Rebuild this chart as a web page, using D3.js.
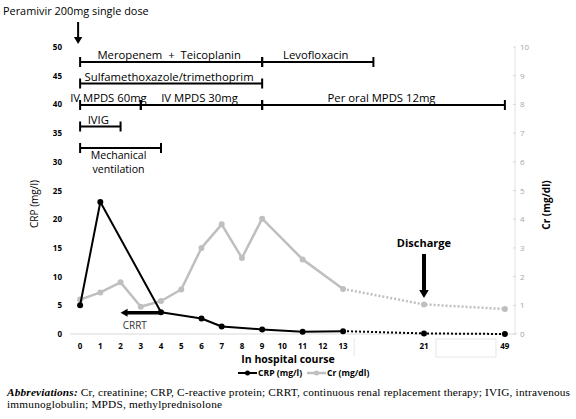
<!DOCTYPE html>
<html>
<head>
<meta charset="utf-8">
<script src="https://cdn.jsdelivr.net/npm/d3@7"></script>
<style>
  body { margin: 0; background: #fff; }
  text { font-family: "Open Sans", "Noto Sans", sans-serif; white-space: pre; }
</style>
</head>
<body>
<div id="chart"></div>
<script>
// hospital days that have measurements
var days = [0, 1, 2, 3, 4, 5, 6, 7, 8, 9, 10, 11, 12, 13, 21, 49];
// CRP (mg/l), null = no measurement
var crp = [5.0, 23.0, null, null, 3.8, null, 2.7, 1.3, null, 0.8, null, 0.4, null, 0.5, 0.1, 0.0];
// Creatinine (mg/dl)
var cr = [1.2, 1.45, 1.8, 0.95, 1.15, 1.55, 3.0, 3.82, 2.65, 4.02, null, 2.6, null, 1.57, 1.03, 0.87];

var crpTicks = [0, 5, 10, 15, 20, 25, 30, 35, 40, 45, 50];
var crTicks = [0, 1, 2, 3, 4, 5, 6, 7, 8, 9, 10];

// treatments drawn as bars over the plot
var treatNames = ["Meropenem  +  Teicoplanin", "Levofloxacin", "Sulfamethoxazole/trimethoprim",
                  "IV MPDS 60mg", "IV MPDS 30mg", "Per oral MPDS 12mg", "IVIG", "Mechanical ventilation"];
var treatStart = [0, 9, 0, 0, 3, 9, 0, 0];
var treatEnd = [9, 16, 9, 3, 9, 49, 2, 4];
var treatRow = [0, 0, 1, 2, 2, 2, 3, 4];

var W = 576, H = 419;
var svg = d3.select("#chart").append("svg").attr("width", W).attr("height", H);

// category axis: 0..13 then blank slots, 21, blank slots, 49
var plotL = 70, plotR = 515, nSlots = 22;
var step = (plotR - plotL) / nSlots;
var slotOf = d3.scaleLinear().domain([0, 13, 21, 49]).range([0, 13, 17, 21]);
var x = function(d) { return plotL + (slotOf(d) + 0.5) * step; };

var yL = d3.scaleLinear().domain([0, 50]).range([334, 47]);
var yR = d3.scaleLinear().domain([0, 10]).range([334, 47]);
var rowY = d3.scaleLinear().domain([0, 4]).range([62, 148]);

// x axis baseline
svg.append("line").attr("x1", plotL).attr("x2", plotR + 2)
    .attr("y1", yL(0)).attr("y2", yL(0))
    .attr("stroke", "#d9d9d9").attr("stroke-width", 1);

// right axis line
svg.append("line").attr("x1", plotR).attr("x2", plotR)
    .attr("y1", yR(10)).attr("y2", yR(0))
    .attr("stroke", "#e3e3e3").attr("stroke-width", 1);
svg.selectAll(".rtick").data(crTicks).enter().append("line")
    .attr("x1", plotR - 2).attr("x2", plotR + 1)
    .attr("y1", d => yR(d)).attr("y2", d => yR(d))
    .attr("stroke", "#d9d9d9");

// left tick labels
svg.selectAll(".ltl").data(crpTicks).enter().append("text")
    .attr("x", 62).attr("y", d => yL(d) + 3)
    .attr("text-anchor", "end")
    .style("font-size", "8px").style("font-weight", "bold")
    .text(d => d);

// right tick labels
svg.selectAll(".rtl").data(crTicks).enter().append("text")
    .attr("x", 520).attr("y", d => yR(d) + 3)
    .style("font-size", "8px").attr("fill", "#a6a6a6")
    .text(d => d);

// x tick labels
svg.selectAll(".xtl").data(days).enter().append("text")
    .attr("x", d => x(d)).attr("y", 349)
    .attr("text-anchor", "middle")
    .style("font-size", "8px").style("font-weight", "bold")
    .text(d => d);

// faint cell borders left over under the axis
svg.append("line").attr("x1", plotL + 14 * step + 1).attr("x2", plotL + 14 * step + 1)
    .attr("y1", 338).attr("y2", 356).attr("stroke", "#e6e6e6");
svg.append("rect").attr("x", x(21) + 12).attr("y", 339).attr("width", 60).attr("height", 18)
    .attr("fill", "none").attr("stroke", "#e6e6e6");

// axis titles
svg.append("text").attr("x", 288).attr("y", 363).attr("text-anchor", "middle")
    .style("font-size", "10.5px").style("font-weight", "bold")
    .text("In hospital course");
svg.append("text").attr("transform", "translate(38,204) rotate(-90)")
    .attr("text-anchor", "middle").style("font-size", "10px")
    .text("CRP (mg/l)");
svg.append("text").attr("transform", "translate(550,205) rotate(-90)")
    .attr("text-anchor", "middle").style("font-size", "10px").style("font-weight", "bold")
    .text("Cr (mg/dl)");

// series helpers
function pts(vals, scale) {
    return days.map((d, i) => ({ d: d, v: vals[i] }))
        .filter(p => p.v !== null)
        .map(p => [x(p.d), scale(p.v)]);
}
var line = d3.line();

// solid through day 13, dotted after
function drawSeries(vals, scale, color, width, r) {
    var p = pts(vals, scale);
    var solid = p.slice(0, p.length - 2);
    var dotted = p.slice(p.length - 3);
    svg.append("path").attr("d", line(solid)).attr("fill", "none")
        .attr("stroke", color).attr("stroke-width", width)
        .attr("stroke-linejoin", "round");
    svg.append("path").attr("d", line(dotted)).attr("fill", "none")
        .attr("stroke", color).attr("stroke-width", width)
        .attr("stroke-dasharray", "2,2");
    svg.append("g").selectAll("circle").data(p).enter().append("circle")
        .attr("cx", q => q[0]).attr("cy", q => q[1]).attr("r", r)
        .attr("fill", color);
}

drawSeries(cr, yR, "#bfbfbf", 2.5, 3);
drawSeries(crp, yL, "#000", 2, 3);

// treatment bars
treatNames.forEach(function(name, i) {
    var x1 = x(treatStart[i]), x2 = x(treatEnd[i]), yy = rowY(treatRow[i]);
    var g = svg.append("g");
    g.append("line").attr("x1", x1).attr("x2", x2).attr("y1", yy).attr("y2", yy)
        .attr("stroke", "#000").attr("stroke-width", 2);
    [x1, x2].forEach(function(xx) {
        g.append("line").attr("x1", xx).attr("x2", xx).attr("y1", yy - 5).attr("y2", yy + 5)
            .attr("stroke", "#000").attr("stroke-width", 2);
    });
    if (name === "Mechanical ventilation") {
        g.append("text").attr("x", (x1 + x2) / 2 - 2).attr("y", yy + 11)
            .attr("text-anchor", "middle").style("font-size", "10.6px").text("Mechanical");
        g.append("text").attr("x", (x1 + x2) / 2 - 2).attr("y", yy + 25)
            .attr("text-anchor", "middle").style("font-size", "10.6px").text("ventilation");
    } else {
        g.append("text").attr("x", (x1 + x2) / 2 - 2).attr("y", yy - 3)
            .attr("text-anchor", "middle").style("font-size", "11.3px").text(name);
    }
});

// arrows
function arrowDown(xx, yTop, yBot, w, head) {
    svg.append("line").attr("x1", xx).attr("x2", xx).attr("y1", yTop).attr("y2", yBot - head)
        .attr("stroke", "#000").attr("stroke-width", w);
    svg.append("path").attr("fill", "#000")
        .attr("d", "M" + (xx - head * 0.6) + "," + (yBot - head) + "L" + (xx + head * 0.6) + "," + (yBot - head) + "L" + xx + "," + yBot + "Z");
}

svg.append("text").attr("x", 3).attr("y", 15).style("font-size", "10.9px")
    .text("Peramivir 200mg single dose");
arrowDown(x(0) - 2, 22, 44, 2, 7);

svg.append("text").attr("x", x(21)).attr("y", 247).attr("text-anchor", "middle")
    .style("font-size", "11px").style("font-weight", "bold").text("Discharge");
arrowDown(x(21), 254, 298, 4, 8);

// CRRT arrow pointing left from day 4 to day 2
var cy = yL(3.7);
svg.append("line").attr("x1", x(4)).attr("x2", x(2) + 6).attr("y1", cy).attr("y2", cy)
    .attr("stroke", "#000").attr("stroke-width", 3.5);
svg.append("path").attr("fill", "#000")
    .attr("d", "M" + (x(2) + 7) + "," + (cy - 4) + "L" + (x(2) + 7) + "," + (cy + 4) + "L" + x(2) + "," + cy + "Z");
svg.append("text").attr("x", (x(2) + x(4)) / 2 - 6).attr("y", 329).attr("text-anchor", "middle")
    .style("font-size", "10px").attr("fill", "#333").text("CRRT");

// legend
var lg = svg.append("g").attr("transform", "translate(0,373)");
lg.append("line").attr("x1", 238).attr("x2", 257).attr("stroke", "#000").attr("stroke-width", 2);
lg.append("circle").attr("cx", 247.5).attr("r", 2.5).attr("fill", "#000");
lg.append("text").attr("x", 258).attr("y", 3).style("font-size", "8.6px").style("font-weight", "bold").text("CRP (mg/l)");
lg.append("line").attr("x1", 307).attr("x2", 326).attr("stroke", "#bfbfbf").attr("stroke-width", 2.5);
lg.append("circle").attr("cx", 316.5).attr("r", 2.5).attr("fill", "#bfbfbf");
lg.append("text").attr("x", 327).attr("y", 3).style("font-size", "8.6px").style("font-weight", "bold").text("Cr (mg/dl)");

// caption
var cap1 = svg.append("text").attr("x", 7).attr("y", 396)
    .attr("textLength", 563).attr("lengthAdjust", "spacing")
    .style("font-family", "'Liberation Serif', serif").style("font-size", "11.3px");
cap1.append("tspan").style("font-style", "italic").style("font-weight", "bold").text("Abbreviations:");
cap1.append("tspan").text(" Cr, creatinine; CRP, C-reactive protein; CRRT, continuous renal replacement therapy; IVIG, intravenous");
svg.append("text").attr("x", 7).attr("y", 408)
    .style("font-family", "'Liberation Serif', serif").style("font-size", "11.3px")
    .attr("textLength", 215).attr("lengthAdjust", "spacing")
    .text("immunoglobulin; MPDS, methylprednisolone");
</script>
</body>
</html>
